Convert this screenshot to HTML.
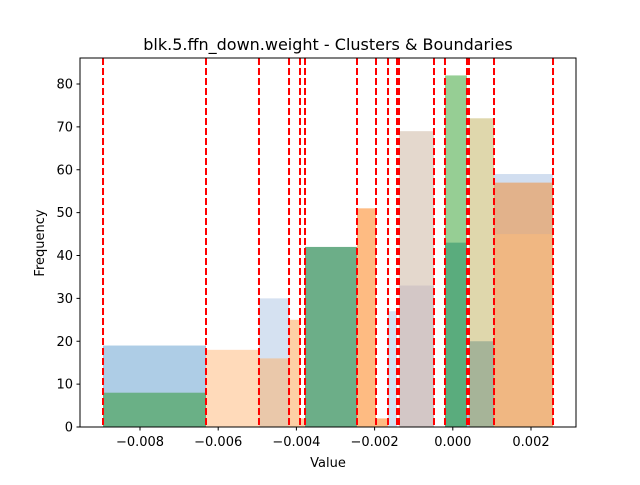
<!DOCTYPE html>
<html><head><meta charset="utf-8"><style>body{margin:0;background:#fff}svg{font-family:"DejaVu Sans","Liberation Sans",sans-serif}</style></head>
<body>
<svg id="c" width="640" height="480" viewBox="0 0 640 480"></svg>
<script>
const boundaries=[-0.008946,-0.006312,-0.004957,-0.004189,-0.003908,-0.003780,-0.002450,-0.001964,-0.001657,-0.001427,-0.001376,-0.000481,-0.000200,0.000363,0.000414,0.001054,0.002563];
const barLeft=[-0.008946,-0.008946,-0.006312,-0.004957,-0.004957,-0.004189,-0.003908,-0.003780,-0.002450,-0.001964,-0.001657,-0.001376,-0.001376,-0.000200,-0.000200,0.000363,0.000414,0.000414,0.001054,0.001054,0.001054];
const barRight=[-0.006312,-0.006312,-0.004957,-0.004189,-0.004189,-0.003908,-0.003780,-0.002450,-0.001964,-0.001657,-0.001427,-0.000481,-0.000481,0.000363,0.000363,0.000414,0.001054,0.001054,0.002563,0.002563,0.002563];
const barHeight=[19,8,18,30,16,25,2,42,51,2,27,69,33,82,43,3,72,20,59,57,45];
const barColor=["#aecde6","#6ab086","#ffdaba","#d5e1f1","#eac8aa","#fecfa5","#fecfa5","#6cae88","#febb82","#febb82","#d5e1f1","#e4d8cd","#d3c7c6","#96ce94","#5aac7d","#a9c9e3","#dfd7ac","#a6b498","#d1def0","#e2b28b","#f0b782"];
const yTicks=[0,10,20,30,40,50,60,70,80];
const xTicks=[-0.008,-0.006,-0.004,-0.002,0.000,0.002];
const xTickLabels=["\u22120.008","\u22120.006","\u22120.004","\u22120.002","0.000","0.002"];
const L=80,R=576,T=58,B=427;
const xs=v=>452.8+v*39100;
const ys=v=>B-v*4.2875;
const svg=document.getElementById('c');
const NS="http://www.w3.org/2000/svg";
function mk(tag,at,txt){const e=document.createElementNS(NS,tag);for(const k in at)e.setAttribute(k,at[k]);if(txt!==undefined)e.textContent=txt;svg.appendChild(e);return e;}
for(let i=0;i<barHeight.length;i++){
 const r=mk('rect',{x:xs(barLeft[i]),y:ys(barHeight[i]),width:xs(barRight[i])-xs(barLeft[i]),height:ys(0)-ys(barHeight[i]),fill:barColor[i]});
 
 
}
for(let i=0;i<boundaries.length;i++){
 const l=mk('line',{x1:xs(boundaries[i]),x2:xs(boundaries[i]),y1:T,y2:B,stroke:'#ff0000','stroke-width':2,'stroke-dasharray':'7,3'});
 
 
}
const f=mk('rect',{x:L,y:T,width:R-L,height:B-T,fill:'none',stroke:'#000','stroke-width':1});


for(const t of yTicks){
 mk('line',{x1:L-3.5,x2:L,y1:ys(t),y2:ys(t),stroke:'#000'});
 const tx=mk('text',{x:L-7,y:ys(t)+4.5,'text-anchor':'end','font-size':13},String(t));
 
 
}
for(let i=0;i<xTicks.length;i++){
 mk('line',{x1:xs(xTicks[i]),x2:xs(xTicks[i]),y1:B,y2:B+3.5,stroke:'#000'});
 const tx=mk('text',{x:xs(xTicks[i]),y:B+19,'text-anchor':'middle','font-size':13},xTickLabels[i]);
 
 
}
const t1=mk('text',{x:328,y:50,'text-anchor':'middle','font-size':16},'blk.5.ffn_down.weight - Clusters & Boundaries');


const t2=mk('text',{x:328,y:467,'text-anchor':'middle','font-size':13},'Value');


const t3=mk('text',{x:44,y:243,'text-anchor':'middle','font-size':13,transform:'rotate(-90 44 243)'},'Frequency');


</script>
</body></html>
